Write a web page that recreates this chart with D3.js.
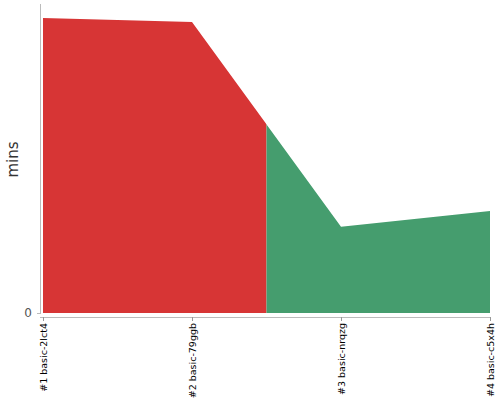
<!DOCTYPE html>
<html>
<head>
<meta charset="utf-8">
<script src="https://cdn.jsdelivr.net/npm/d3@7"></script>
<style>
  html, body { margin: 0; padding: 0; background: #fff; }
  svg { display: block; font-family: "DejaVu Sans", sans-serif; }
</style>
</head>
<body>
<svg id="chart" width="500" height="400"></svg>
<script>
const categories = ["#1 basic-2lct4", "#2 basic-79ggb", "#3 basic-nrqzg", "#4 basic-c5x4h"];
const durations = [95.5, 94.2, 27.9, 33.0];
const statuses = ["failed", "failed", "passed", "passed"];
const yTicks = [0];
const yLabel = "mins";

const colors = { failed: "#d73535", passed: "#459d6e" };

const svg = d3.select("#chart");
const W = 500, H = 400;
const x = d3.scalePoint().domain(categories).range([43, 490]);
const y = d3.scaleLinear().domain([0, 100]).range([313, 4]);

const data = categories.map((c, i) => ({ c, v: durations[i], s: statuses[i] }));

const area = d3.area()
  .x(d => x(d.c))
  .y0(y(0))
  .y1(d => y(d.v));

// build colour segments: each point owns half of the gap to its neighbours
const defs = svg.append("defs");
const segs = [];
data.forEach((d, i) => {
  const left = i === 0 ? x(d.c) : (x(data[i - 1].c) + x(d.c)) / 2;
  const right = i === data.length - 1 ? x(d.c) : (x(d.c) + x(data[i + 1].c)) / 2;
  const last = segs[segs.length - 1];
  if (last && last.s === d.s) last.right = right;
  else segs.push({ s: d.s, left, right });
});

segs.forEach((sg, i) => {
  defs.append("clipPath").attr("id", "clip" + i)
    .append("rect")
    .attr("x", sg.left).attr("y", 0)
    .attr("width", sg.right - sg.left).attr("height", H);
  svg.append("path")
    .datum(data)
    .attr("d", area)
    .attr("fill", colors[sg.s])
    .attr("clip-path", `url(#clip${i})`);
});

// y axis
const yAxis = svg.append("g")
  .attr("transform", "translate(40,0)")
  .call(d3.axisLeft(y).tickValues(yTicks).tickSize(3).tickPadding(5).tickSizeOuter(0));
yAxis.select(".domain").attr("stroke", "#bbb").attr("d", `M0.5,${y.range()[1]}V${y(0) + 1}`);
yAxis.selectAll(".tick line").attr("stroke", "#bbb");
yAxis.selectAll(".tick text").attr("fill", "#555").style("font-size", "12px").attr("font-family", "DejaVu Sans");

// x axis
const xAxis = svg.append("g")
  .attr("transform", "translate(0,317)")
  .call(d3.axisBottom(x).tickSize(4).tickSizeOuter(0));
xAxis.select(".domain").attr("stroke", "#bbb").attr("d", "M40,0.5H491");
xAxis.selectAll(".tick line").attr("stroke", "#999");
xAxis.selectAll(".tick text")
  .attr("fill", "#000")
  .style("font-size", "9.5px")
  .attr("font-family", "DejaVu Sans")
  .attr("transform", "rotate(-90)")
  .attr("text-anchor", "end")
  .attr("x", -6)
  .attr("y", 0)
  .attr("dy", "0.35em");

// y label
svg.append("text")
  .attr("transform", `translate(18,${(y.range()[0] + y.range()[1]) / 2 + 1}) rotate(-90)`)
  .attr("text-anchor", "middle")
  .attr("fill", "#333")
  .style("font-size", "15px")
  .text(yLabel);
</script>
</body>
</html>
